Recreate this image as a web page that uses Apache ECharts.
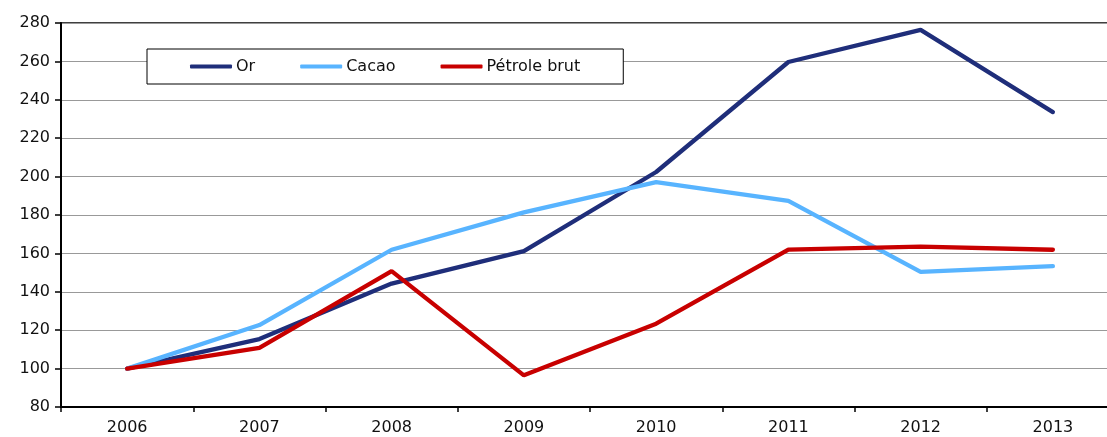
<!DOCTYPE html>
<html>
<head>
<meta charset="utf-8">
<script src="https://cdn.jsdelivr.net/npm/echarts@6/dist/echarts.min.js"></script>
<style>
html,body{margin:0;padding:0;background:#fff;}
#c{width:1107px;height:437px;}
</style>
</head>
<body>
<div id="c"></div>
<script>
const years = ['2006','2007','2008','2009','2010','2011','2012','2013'];
const orValues = [100, 115.4, 144.3, 161.2, 202.4, 259.7, 276.4, 233.6];
const cacaoValues = [100, 122.7, 161.9, 181.4, 197.1, 187.4, 150.4, 153.4];
const petroleValues = [100, 110.8, 150.8, 96.5, 123.4, 162.0, 163.5, 161.9];
const yTicks = {min: 80, max: 280, interval: 20};

const FONT = 'DejaVu Sans';
const chart = echarts.init(document.getElementById('c'), null, {renderer: 'canvas'});
chart.setOption({
  animation: false,
  backgroundColor: '#fff',
  textStyle: {fontFamily: FONT},
  grid: {left: 61, width: 1058, top: 23, bottom: 30, outerBoundsMode: 'none', containLabel: false, show: true, borderColor: '#000', borderWidth: 1.5, backgroundColor: 'transparent'},
  legend: {
    left: 147, top: 49,
    padding: [9, 43, 9, 43],
    itemGap: 45,
    itemWidth: 42, itemHeight: 4,
    icon: 'roundRect',
    borderColor: '#000', borderWidth: 1,
    backgroundColor: '#fff',
    textStyle: {fontFamily: FONT, fontSize: 16, lineHeight: 17, color: '#111', padding: [0,0,0,-1]},
    data: ['Or', 'Cacao', 'Pétrole brut']
  },
  xAxis: {
    type: 'category',
    data: years,
    boundaryGap: true,
    axisLine: {lineStyle: {color: '#000', width: 2}},
    axisTick: {show: true, length: 5, lineStyle: {color: '#000', width: 1.5}},
    axisLabel: {color: '#111', fontSize: 16, fontFamily: FONT, margin: 13},
    splitLine: {show: false}
  },
  yAxis: {
    type: 'value',
    min: yTicks.min, max: yTicks.max, interval: yTicks.interval,
    axisLine: {show: true, lineStyle: {color: '#000', width: 2}},
    axisTick: {show: true, length: 6, lineStyle: {color: '#000', width: 1.5}},
    axisLabel: {color: '#111', fontSize: 16, fontFamily: FONT, margin: 11},
    splitLine: {show: true, lineStyle: {color: '#999', width: 1.2}}
  },
  series: [
    {name: 'Or', type: 'line', data: orValues, symbol: 'none', lineStyle: {color: '#1F2E7A', width: 4.3, cap: 'round'}, itemStyle: {color: '#1F2E7A'}},
    {name: 'Cacao', type: 'line', data: cacaoValues, symbol: 'none', lineStyle: {color: '#58B4FF', width: 4.3, cap: 'round'}, itemStyle: {color: '#58B4FF'}},
    {name: 'Pétrole brut', type: 'line', data: petroleValues, symbol: 'none', lineStyle: {color: '#C80000', width: 4.3, cap: 'round'}, itemStyle: {color: '#C80000'}}
  ]
});
</script>
</body>
</html>
